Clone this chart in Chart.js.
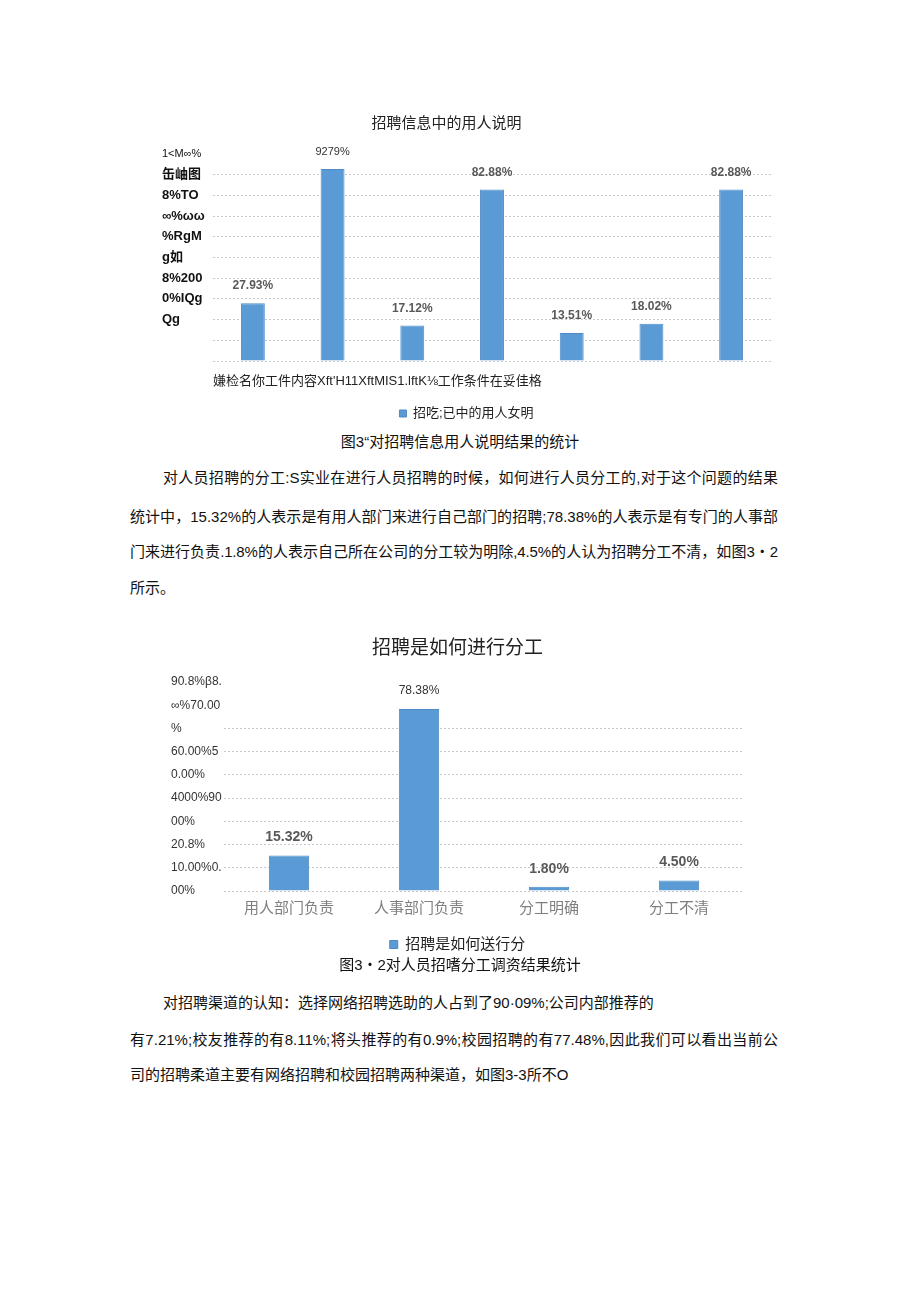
<!DOCTYPE html>
<html>
<head>
<meta charset="utf-8">
<script src="https://cdn.jsdelivr.net/npm/chart.js@4.4.1/dist/chart.umd.min.js"></script>
<style>
  body { margin: 0; background: #fff; }
  #page { position: relative; width: 920px; height: 1301px; overflow: hidden;
          font-family: "Liberation Sans", "Noto Sans CJK SC", sans-serif; color: #111; }
  .line { position: absolute; font-size: 15px; line-height: 20px; white-space: nowrap; }
  .full { text-align: justify; text-align-last: justify; }
  .cap { position: absolute; left: 0; width: 920px; text-align: center; font-size: 15px; line-height: 20px; }
  .box { position: absolute; }
</style>
</head>
<body>
<div id="page">
  <div class="box" style="left:150px; top:100px;"><canvas id="chart1" width="640" height="330"></canvas></div>
  <div class="cap" style="top:432px;">图3“对招聘信息用人说明结果的统计</div>

  <div class="line full" style="left:163px; top:468px; width:615px;">对人员招聘的分工:S实业在进行人员招聘的时候，如何进行人员分工的,对于这个问题的结果</div>
  <div class="line full" style="left:130px; top:507px; width:648px;">统计中，15.32%的人表示是有用人部门来进行自己部门的招聘;78.38%的人表示是有专门的人事部</div>
  <div class="line full" style="left:130px; top:542px; width:648px; letter-spacing:-0.15px;">门来进行负责.1.8%的人表示自己所在公司的分工较为明除,4.5%的人认为招聘分工不清，如图3・2</div>
  <div class="line" style="left:130px; top:578px;">所示。</div>

  <div class="box" style="left:160px; top:630px;"><canvas id="chart2" width="600" height="332"></canvas></div>
  <div class="cap" style="top:955px;">图3・2对人员招嗜分工调资结果统计</div>

  <div class="line" style="left:163px; top:993px;">对招聘渠道的认知：选择网络招聘选助的人占到了90·09%;公司内部推荐的</div>
  <div class="line full" style="left:130px; top:1030px; width:648px;">有7.21%;校友推荐的有8.11%;将头推荐的有0.9%;校园招聘的有77.48%,因此我们可以看出当前公</div>
  <div class="line" style="left:130px; top:1065px;">司的招聘柔道主要有网络招聘和校园招聘两种渠道，如图3-3所不O</div>
</div>

<script>
// chart 1: 招聘信息中的用人说明
const cat1 = ['嫌检', '名你', '工件内容', "Xft'H11", 'XftMIS1.lftK⅛', '工作条件', '在妥佳格'];
const val1 = [27.93, 92.79, 17.12, 82.88, 13.51, 18.02, 82.88];
const lab1 = ['27.93%', '9279%', '17.12%', '82.88%', '13.51%', '18.02%', '82.88%'];
// y tick labels, from 0 up to 100
const ytk1 = ['', '', 'Qg', '0%IQg', '8%200', 'g如', '%RgM', '∞%ωω', '8%TO', '缶岫图', '1<M∞%'];

// chart 2: 招聘是如何进行分工
const cat2 = ['用人部门负责', '人事部门负责', '分工明确', '分工不清'];
const val2 = [15.32, 78.38, 1.80, 4.50];
const lab2 = ['15.32%', '78.38%', '1.80%', '4.50%'];
// y tick labels, from 0 up to 90
const ytk2 = ['00%', '10.00%0.', '20.8%', '00%', '4000%90', '0.00%', '60.00%5', '%', '∞%70.00', '90.8%β8.'];

const BLUE = '#5b9bd5';
const GRID = '#c9c9c9';
Chart.defaults.font.family = '"Liberation Sans", "Noto Sans CJK SC", sans-serif';

// text above each bar
const barText = {
    id: 'barText',
    afterDatasetsDraw(chart, args, opts) {
        const ctx = chart.ctx;
        chart.getDatasetMeta(0).data.forEach((bar, i) => {
            const plain = opts.plain.includes(i);
            ctx.save();
            ctx.font = plain ? opts.plainFont : opts.font;
            ctx.fillStyle = plain ? '#333' : '#595959';
            ctx.textAlign = 'center';
            ctx.textBaseline = 'middle';
            ctx.fillText(opts.texts[i], bar.x, bar.y - opts.gap);
            ctx.restore();
        });
    }
};

// move the title sideways, the source chart had it off centre
const shiftTitle = {
    id: 'shiftTitle',
    afterLayout(chart, args, opts) {
        const t = chart.titleBlock;
        if (t && opts.dx) { t.left += opts.dx; t.right += opts.dx; }
    }
};

new Chart(document.getElementById('chart1'), {
    type: 'bar',
    data: {
        labels: cat1,
        datasets: [{
            label: '招吃;已中的用人女明',
            data: val1,
            backgroundColor: BLUE,
            borderColor: '#4f8ac4',
            borderWidth: 1,
            categoryPercentage: 1,
            barPercentage: 0.3
        }]
    },
    options: {
        responsive: false,
        animation: false,
        layout: { padding: { left: 12, right: 19, top: 0, bottom: 0 } },
        scales: {
            x: {
                grid: { display: false, drawTicks: false },
                border: { display: false },
                ticks: { display: false },
                title: {
                    display: true, text: cat1.join(''), align: 'start',
                    font: { size: 13 }, color: '#222', padding: { top: 0, bottom: 8 }
                },
                afterFit: (s) => { s.height = 36; }
            },
            y: {
                min: 0, max: 100,
                border: { display: false, dash: [2, 2] },
                grid: {
                    color: (c) => c.tick && c.tick.value === 100 ? 'rgba(0,0,0,0)' : GRID,
                    drawTicks: false
                },
                ticks: {
                    stepSize: 10, autoSkip: false, crossAlign: 'far', color: '#111',
                    callback: (v, i) => ytk1[i],
                    font: (c) => c.index === 10 ? { size: 11, weight: 'normal' } : { size: 13, weight: 'bold' }
                },
                afterFit: (s) => { s.width = 51; }
            }
        },
        plugins: {
            title: {
                display: true, text: '招聘信息中的用人说明', color: '#222',
                font: { size: 15, weight: 'normal' }, padding: { top: 15, bottom: 21 }
            },
            shiftTitle: { dx: -20 },
            legend: {
                position: 'bottom',
                labels: { boxWidth: 7, boxHeight: 7, color: '#222', font: { size: 13 } }
            },
            tooltip: { enabled: false },
            barText: { texts: lab1, plain: [1], gap: 17, font: 'bold 12px "Liberation Sans", sans-serif', plainFont: '11px "Liberation Sans", sans-serif' }
        }
    },
    plugins: [barText, shiftTitle]
});

new Chart(document.getElementById('chart2'), {
    type: 'bar',
    data: {
        labels: cat2,
        datasets: [{
            label: '招聘是如何送行分',
            data: val2,
            backgroundColor: BLUE,
            borderColor: '#4f8ac4',
            borderWidth: 1,
            categoryPercentage: 1,
            barPercentage: 0.31
        }]
    },
    options: {
        responsive: false,
        animation: false,
        layout: { padding: { left: 11, right: 16, top: 0, bottom: 0 } },
        scales: {
            x: {
                grid: { display: false, drawTicks: false },
                border: { display: false },
                ticks: { autoSkip: false, maxRotation: 0, padding: 9, color: '#7f7f7f', font: { size: 15 } },
                afterFit: (s) => { s.height = 36; }
            },
            y: {
                min: 0, max: 90,
                border: { display: false, dash: [2, 2] },
                grid: {
                    color: (c) => c.tick && c.tick.value > 70 ? 'rgba(0,0,0,0)' : GRID,
                    drawTicks: false
                },
                ticks: {
                    stepSize: 10, autoSkip: false, crossAlign: 'far', color: '#333',
                    callback: (v, i) => ytk2[i],
                    font: { size: 12 }
                },
                afterFit: (s) => { s.width = 53; }
            }
        },
        plugins: {
            title: {
                display: true, text: '招聘是如何进行分工', color: '#222',
                font: { size: 19, weight: 'normal' }, padding: { top: 7.6, bottom: 21.6 }
            },
            legend: {
                position: 'bottom',
                labels: { boxWidth: 8, boxHeight: 8, color: '#222', font: { size: 15 } }
            },
            tooltip: { enabled: false },
            barText: { texts: lab2, plain: [1], gap: 18, font: 'bold 14px "Liberation Sans", sans-serif', plainFont: '12px "Liberation Sans", sans-serif' }
        }
    },
    plugins: [barText]
});
</script>
</body>
</html>
